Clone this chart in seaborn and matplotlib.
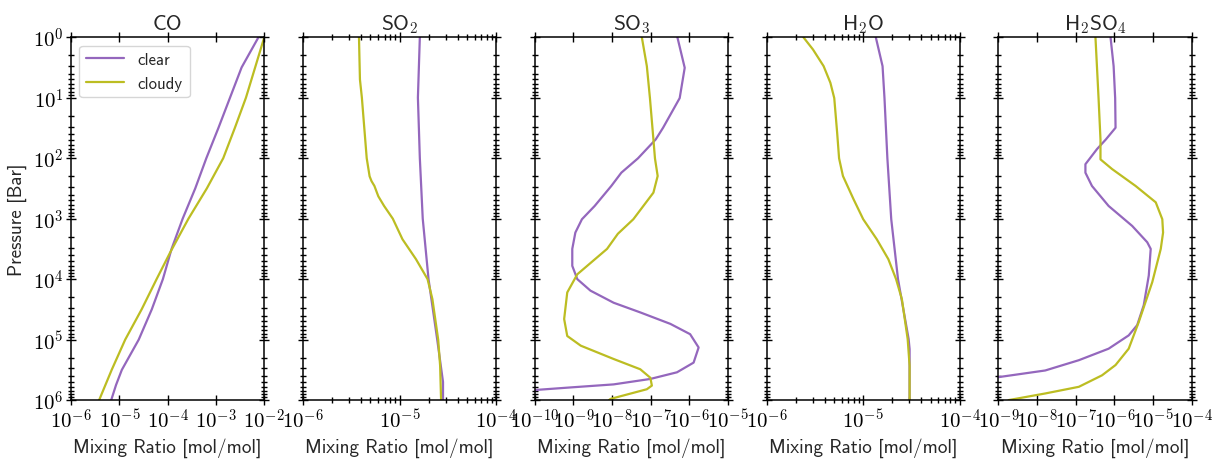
import numpy as np
import pandas as pd
import seaborn as sns
import matplotlib.pyplot as plt
import matplotlib.ticker as mticker

# values, stored as log10 exponents
# (pressure in bar, mixing ratio in mol/mol)
species = ["CO", "SO2", "SO3", "H2O", "H2SO4"]
titles = ["CO", r"SO$_\mathsf{2}$", r"SO$_\mathsf{3}$", r"H$_\mathsf{2}$O", r"H$_\mathsf{2}$SO$_\mathsf{4}$"]
xlims = [(-6, -2), (-6, -4), (-10, -5), (-6, -4), (-9, -4)]

co_clear_p = [0, 0.5, 1.0, 1.5, 2.0, 2.5, 3.0, 3.5, 4.0, 4.5, 5.0, 5.5, 5.75, 6.0]
co_clear_x = [-2.12, -2.47, -2.71, -2.95, -3.2, -3.43, -3.69, -3.92, -4.1, -4.33, -4.6, -4.95, -5.07, -5.17]
co_cloudy_p = [0, 0.5, 1.0, 1.5, 2.0, 2.5, 3.0, 3.56, 4.0, 4.5, 5.0, 5.5, 6.0]
co_cloudy_x = [-2.0, -2.19, -2.38, -2.61, -2.85, -3.19, -3.57, -3.95, -4.23, -4.54, -4.88, -5.16, -5.42]

so2_clear_p = [0, 1.0, 2.0, 3.0, 4.0, 5.0, 5.7, 6.0]
so2_clear_x = [-4.79, -4.81, -4.79, -4.76, -4.70, -4.61, -4.55, -4.55]
so2_cloudy_p = [0, 0.7, 1.0, 2.0, 2.3, 2.38, 2.46, 2.63, 2.79, 3.0, 3.34, 3.67, 4.0, 4.33, 5.0, 5.43, 6.0]
so2_cloudy_x = [-5.42, -5.41, -5.39, -5.34, -5.31, -5.29, -5.26, -5.22, -5.16, -5.07, -4.97, -4.83, -4.71, -4.66, -4.60, -4.58, -4.57]

so3_clear_p = [0, 0.506, 1.007, 1.497, 1.69, 2.003, 2.24, 2.46, 2.79, 3.01, 3.23, 3.50, 3.78, 4.0,
               4.19, 4.39, 4.55, 4.74, 4.91, 5.13, 5.38, 5.54, 5.65, 5.74, 5.79, 5.83, 5.87]
so3_clear_x = [-6.31, -6.12, -6.25, -6.68, -6.87, -7.33, -7.76, -8.02, -8.45, -8.78, -8.95, -9.03, -9.03, -8.90,
               -8.56, -7.96, -7.27, -6.49, -5.98, -5.76, -5.89, -6.32, -7.01, -7.96, -9.07, -9.93, -10.6]
so3_cloudy_p = [0, 0.479, 1.007, 1.69, 2.003, 2.295, 2.57, 3.01, 3.25, 3.50, 3.92, 4.22, 4.66, 4.94, 5.10,
                5.32, 5.49, 5.63, 5.76, 5.82, 5.98, 6.0]
so3_cloudy_x = [-7.23, -7.10, -7.02, -6.93, -6.89, -6.82, -6.93, -7.45, -7.85, -8.13, -8.90, -9.16, -9.24, -9.16, -8.81,
                -7.96, -7.27, -7.01, -6.97, -7.10, -8.04, -8.08]

h2o_clear_p = [0, 0.479, 1.007, 2.003, 3.01, 4.0, 4.99, 5.157, 6.0]
h2o_clear_x = [-4.87, -4.80, -4.78, -4.75, -4.71, -4.64, -4.53, -4.52, -4.52]
h2o_cloudy_p = [0, 0.204, 0.479, 0.754, 1.007, 1.58, 2.003, 2.295, 2.68, 3.01, 3.34, 3.67, 4.0, 4.33, 4.99, 5.43, 6.0]
h2o_cloudy_x = [-5.62, -5.52, -5.41, -5.34, -5.30, -5.27, -5.25, -5.21, -5.10, -5.0, -4.86, -4.74, -4.66, -4.60, -4.54, -4.52, -4.52]

h2so4_clear_p = [0, 0.479, 1.007, 1.497, 1.69, 1.85, 2.10, 2.24, 2.46, 2.79, 3.12, 3.39, 3.50, 3.94, 4.43, 4.76,
                 4.93, 5.15, 5.34, 5.51, 5.62, 5.7]
h2so4_clear_x = [-6.10, -6.02, -5.98, -5.97, -6.22, -6.45, -6.75, -6.75, -6.58, -6.15, -5.54, -5.15, -5.06, -5.11, -5.24, -5.41,
                 -5.63, -6.15, -6.92, -7.79, -9.0, -9.6]
h2so4_cloudy_p = [0, 1.007, 1.69, 2.02, 2.18, 2.46, 2.73, 3.01, 3.23, 3.50, 4.05, 4.71, 5.15, 5.42, 5.59, 5.78, 5.89, 6.0]
h2so4_cloudy_x = [-6.49, -6.41, -6.36, -6.36, -6.06, -5.45, -4.93, -4.76, -4.74, -4.80, -5.02, -5.37, -5.63, -5.97, -6.32, -6.92, -7.79, -8.74]

profiles = {
    "CO": ((co_clear_p, co_clear_x), (co_cloudy_p, co_cloudy_x)),
    "SO2": ((so2_clear_p, so2_clear_x), (so2_cloudy_p, so2_cloudy_x)),
    "SO3": ((so3_clear_p, so3_clear_x), (so3_cloudy_p, so3_cloudy_x)),
    "H2O": ((h2o_clear_p, h2o_clear_x), (h2o_cloudy_p, h2o_cloudy_x)),
    "H2SO4": ((h2so4_clear_p, h2so4_clear_x), (h2so4_cloudy_p, h2so4_cloudy_x)),
}
cases = ["clear", "cloudy"]
colors = {"clear": "#9467bd", "cloudy": "#bcbd22"}

sns.set_style("ticks")
plt.rcParams["font.family"] = ["cmss10", "DejaVu Sans"]
plt.rcParams["mathtext.fontset"] = "cm"
plt.rcParams["axes.formatter.use_mathtext"] = True
plt.rcParams["axes.unicode_minus"] = False
plt.rcParams["axes.edgecolor"] = "black"
plt.rcParams["xtick.color"] = "black"
plt.rcParams["ytick.color"] = "black"

# decade labels drawn in serif computer modern, like the reference
decade_fmt = mticker.FuncFormatter(lambda v, pos: r"$10^{%d}$" % int(round(np.log10(v))))

fig, axes = plt.subplots(1, 5, figsize=(12.26, 4.6), dpi=100, sharey=True)
fig.subplots_adjust(left=0.058, right=0.972, top=0.917, bottom=0.128, wspace=0.2)

for i, (ax, sp) in enumerate(zip(axes, species)):
    rows = []
    for case, (p, x) in zip(cases, profiles[sp]):
        for pp, xx in zip(p, x):
            rows.append({"case": case, "pressure": 10.0 ** pp, "mix": 10.0 ** xx})
    df = pd.DataFrame(rows)
    ax.set_xscale("log")
    ax.set_yscale("log")
    sns.lineplot(data=df, x="mix", y="pressure", hue="case", palette=colors,
                 orient="y", estimator=None, lw=1.6, ax=ax, legend=(i == 0))
    lo, hi = xlims[i]
    ax.set_xlim(10.0 ** lo, 10.0 ** hi)
    ax.set_ylim(1e6, 1)
    ax.set_title(titles[i], fontsize=15.5, pad=6)
    ax.set_xlabel("Mixing Ratio [mol/mol]", fontsize=13.8)
    ax.set_ylabel("")
    ax.xaxis.set_major_locator(mticker.LogLocator(base=10, numticks=10))
    ax.xaxis.set_major_formatter(decade_fmt)
    if hi - lo > 2:
        ax.xaxis.set_minor_locator(mticker.NullLocator())
    ax.yaxis.set_major_locator(mticker.LogLocator(base=10, numticks=10))
    ax.yaxis.set_major_formatter(decade_fmt)
    ax.yaxis.set_minor_locator(mticker.LogLocator(base=10, subs=np.arange(2, 10), numticks=20))
    ax.tick_params(which="both", direction="inout", top=True, right=True, labelsize=15, width=1)
    ax.tick_params(which="major", length=7, pad=2)
    ax.tick_params(which="minor", length=4)
    for s in ax.spines.values():
        s.set_linewidth(1.1)

axes[0].set_ylabel("Pressure [Bar]", fontsize=13.8)
leg = axes[0].legend(loc="upper left", fontsize=12, handlelength=2.3, title=None)

fig.savefig("out.png", dpi=100)
